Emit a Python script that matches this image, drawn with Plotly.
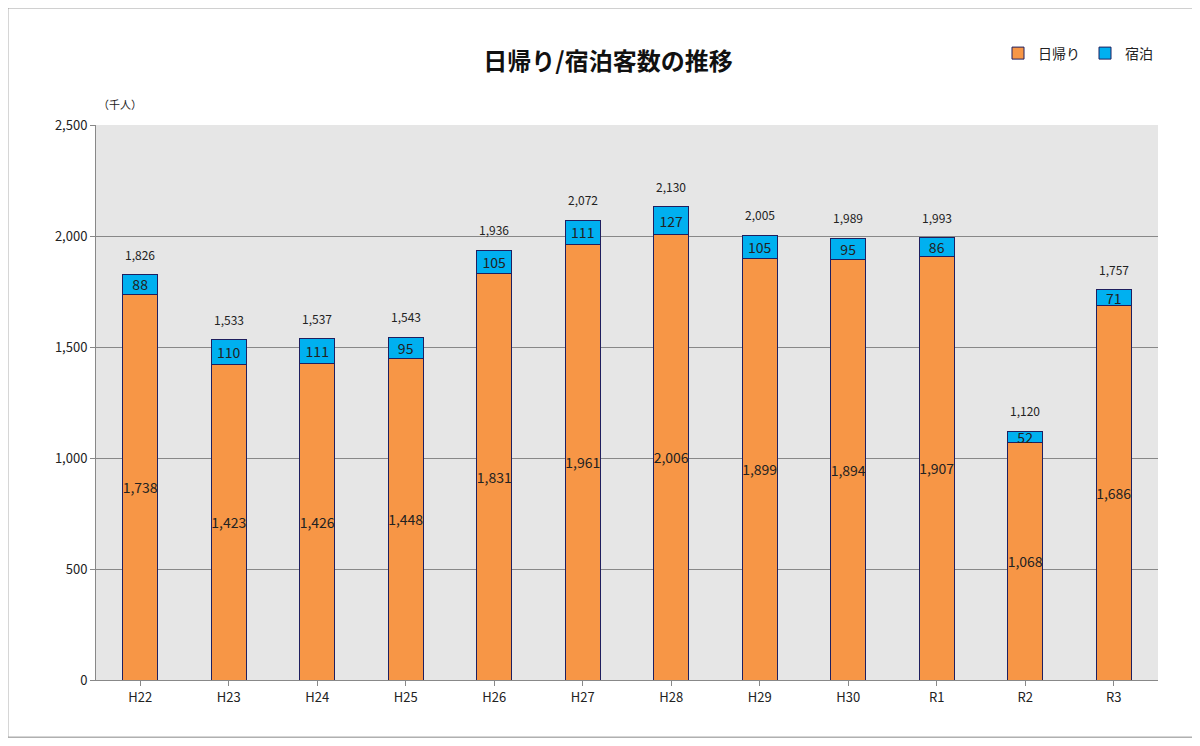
import plotly.graph_objects as go

years = ["H22", "H23", "H24", "H25", "H26", "H27", "H28", "H29", "H30", "R1", "R2", "R3"]
daytrip = [1738, 1423, 1426, 1448, 1831, 1961, 2006, 1899, 1894, 1907, 1068, 1686]
stay = [88, 110, 111, 95, 105, 111, 127, 105, 95, 86, 52, 71]
totals = [1826, 1533, 1537, 1543, 1936, 2072, 2130, 2005, 1989, 1993, 1120, 1757]

font = "Noto Sans CJK JP"
fig = go.Figure()
fig.add_trace(go.Bar(
    x=years, y=daytrip, name="日帰り", width=0.4,
    marker=dict(color="#F79646", line=dict(color="#1F1F5F", width=1)),
    text=[f"{v:,}" for v in daytrip], textposition="inside",
    insidetextanchor="middle", textangle=0, constraintext="none",
    textfont=dict(size=14, color="#222"),
))
fig.add_trace(go.Bar(
    x=years, y=stay, name="宿泊", width=0.4,
    marker=dict(color="#00B0F0", line=dict(color="#1F1F5F", width=1)),
    text=[str(v) for v in stay], textposition="inside",
    insidetextanchor="middle", textangle=0, constraintext="none",
    textfont=dict(size=14, color="#222"),
))

annotations = [dict(text="（千人）", xref="paper", yref="paper", x=0.0, y=1.02,
                    xanchor="left", yanchor="bottom", showarrow=False,
                    font=dict(size=11))]
for yr, tot in zip(years, totals):
    annotations.append(dict(x=yr, y=tot, text=f"{tot:,}", showarrow=False,
                            yanchor="bottom", yshift=10, font=dict(size=12, color="#222")))

fig.update_layout(
    width=1200, height=746, barmode="stack",
    paper_bgcolor="white", plot_bgcolor="#E6E6E6",
    font=dict(family=font, color="#222"),
    margin=dict(l=88, r=50, t=117, b=74),
    title=dict(text="<b>日帰り/宿泊客数の推移</b>", x=0.5, xanchor="center",
               y=0.94, font=dict(size=24, color="#111")),
    legend=dict(orientation="h", x=1.0, xanchor="right", y=1.1, yanchor="bottom",
                font=dict(size=14), traceorder="normal"),
    uniformtext=dict(mode=False),
    shapes=[dict(type="rect", xref="paper", yref="paper", x0=-0.083, x1=1.048,
                 y0=-0.103, y1=1.211, line=dict(color="#888", width=1))],
    annotations=annotations,
)
fig.update_yaxes(range=[0, 2500], dtick=500, tickformat=",", gridcolor="#888",
                 showline=True, linecolor="#888", ticks="outside", tickcolor="#888",
                 tickfont=dict(size=13), zeroline=False)
fig.update_xaxes(showline=True, linecolor="#888", tickfont=dict(size=13),
                 ticks="outside", tickcolor="#888")

fig.write_html("out.html")
